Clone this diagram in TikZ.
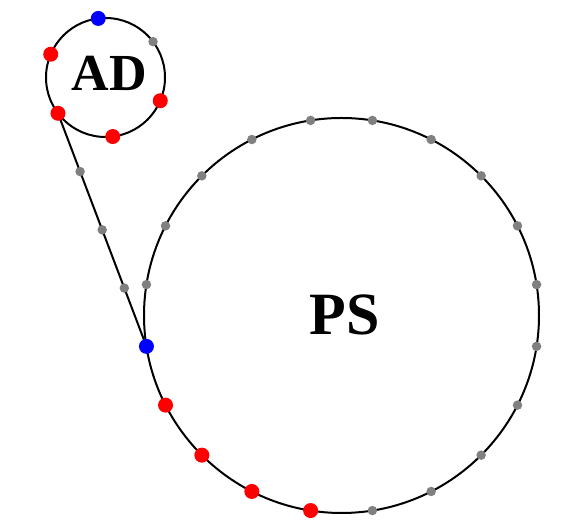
\documentclass[tikz,border=0pt]{standalone}
\usepackage{fontspec}
\setmainfont{Liberation Serif}
\begin{document}
\begin{tikzpicture}[x=1pt,y=1pt,
  ring/.style={circle, draw=black, line width=2pt, outer sep=0pt, inner sep=0pt},
  link/.style={draw=black, line width=2pt},
  bigdot/.style={circle, fill=#1, draw=none, inner sep=0pt, minimum size=15pt},
  smalldot/.style={circle, fill=gray, draw=none, inner sep=0pt, minimum size=9.5pt},
  lbl/.style={anchor=base, inner sep=0pt, font=\bfseries\fontsize{#1}{#1}\selectfont}]
\useasboundingbox (0,0) rectangle (565,526);
% circles
\node[ring, minimum size=119pt] (AD) at (105.5,448.5) {};
\node[ring, minimum size=395pt] (PS) at (341.5,210.5) {};
% connector
\path[link] (AD.217) -- (PS.189)
  node[smalldot, pos=0.25] (l1) {}
  node[smalldot, pos=0.5] (l2) {}
  node[smalldot, pos=0.75] (l3) {};
% dots on AD
\node[smalldot] (a37) at (AD.37) {};
\node[bigdot=blue] (a97) at (AD.97) {};
\foreach \a in {157,217,277,337} \node[bigdot=red] (a\a) at (AD.\a) {};
% dots on PS
\foreach \a in {9,27,45,63,81,99,117,135,153,171,279,297,315,333,351}
  \node[smalldot] (p\a) at (PS.\a) {};
\foreach \a in {207,225,243,261} \node[bigdot=red] (p\a) at (PS.\a) {};
\node[bigdot=blue] (p189) at (PS.189) {};
% labels
\node[lbl=52] (tAD) at (109.4,435.3) {AD};
\node[lbl=60] (tPS) at (345,191) {PS};
\end{tikzpicture}
\end{document}
